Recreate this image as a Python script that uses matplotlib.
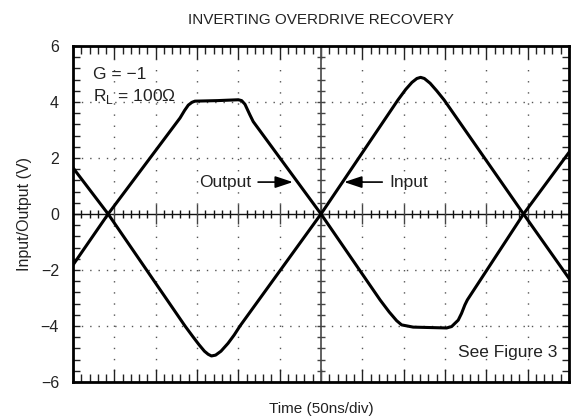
import numpy as np
import matplotlib
matplotlib.use("Agg")
import matplotlib.pyplot as plt
from matplotlib.ticker import MultipleLocator, NullFormatter

plt.rcParams['font.family'] = ['Liberation Sans', 'DejaVu Sans']

# time axis in divisions (50ns/div), 12 divisions across
t_in = [0, 0.85, 2.71, 2.9, 3.05, 3.18, 3.27, 3.35, 3.45, 3.58, 3.75, 3.9, 4.04, 6.0,
        7.86, 8.05, 8.2, 8.32, 8.41, 8.5, 8.64, 8.8, 8.98, 10.9, 12]
v_in = [1.65, 0, -4.0, -4.38, -4.67, -4.9, -5.01, -5.07, -5.04, -4.9, -4.62, -4.32, -4.0, 0,
        4.07, 4.45, 4.7, 4.84, 4.88, 4.84, 4.67, 4.4, 4.07, 0, -2.3]

t_out = [0, 0.85, 2.59, 2.7, 2.79, 2.88, 2.95, 3.5, 4.0, 4.08, 4.16, 4.22, 4.28, 4.36, 6.0,
         7.43, 7.65, 7.83, 7.95, 8.23, 9.04, 9.16, 9.32, 9.4, 9.48, 9.54, 10.9, 12]
v_out = [-1.82, 0, 3.43, 3.7, 3.89, 3.99, 4.03, 4.05, 4.08, 4.05, 3.92, 3.73, 3.54, 3.3, 0,
         -3.07, -3.5, -3.81, -3.96, -4.04, -4.07, -4.02, -3.79, -3.55, -3.25, -3.07, 0, 2.2]

y_ticks = [-6, -4, -2, 0, 2, 4, 6]
txt = '#222222'

fig = plt.figure(figsize=(5.72, 4.2), dpi=100)
ax = fig.add_axes([73 / 572, 1 - 382 / 420, 496 / 572, 336 / 420])

ax.set_xlim(0, 12)
ax.set_ylim(-6, 6)

# dotted graticule
for gx in range(1, 12):
    if gx != 6:
        ax.axvline(gx, color='#555555', lw=1.0, ls=(0, (1, 7)), zorder=1)
for gy in y_ticks[1:-1]:
    if gy != 0:
        ax.axhline(gy, color='#555555', lw=1.0, ls=(0, (1, 5)), zorder=1)

# centre cross-hair with its own small ticks
ax.axhline(0, color='#111111', lw=1.0, zorder=2)
ax.axvline(6, color='#555555', lw=1.3, zorder=2)
xm = np.arange(0.2, 12, 0.2)
xm = xm[np.abs(xm - np.round(xm)) > 0.01]
ax.plot(xm, np.zeros_like(xm), ls='none', marker='|', ms=6, mew=1.0,
        color='#111111', zorder=2)
xM = np.arange(1, 12)
ax.plot(xM, np.zeros_like(xM), ls='none', marker='|', ms=14, mew=1.0,
        color='#444444', zorder=2)
ym = np.arange(-5.6, 6, 0.4)
ax.plot(np.full_like(ym, 6), ym, ls='none', marker='_', ms=6, mew=1.0,
        color='#444444', zorder=2)

# waveforms
ax.plot(t_in, v_in, color='black', lw=2.2, solid_joinstyle='round', zorder=3)
ax.plot(t_out, v_out, color='black', lw=2.2, solid_joinstyle='round', zorder=3)

# ticks
ax.xaxis.set_major_locator(MultipleLocator(1))
ax.xaxis.set_minor_locator(MultipleLocator(0.2))
ax.xaxis.set_major_formatter(NullFormatter())
ax.set_yticks(y_ticks)
ax.set_yticklabels([str(v).replace('-', '\u2212') for v in y_ticks],
                   fontsize=11.5, color=txt)
ax.yaxis.set_minor_locator(MultipleLocator(0.4))
ax.tick_params(axis='x', which='major', direction='in', top=True, bottom=True,
               length=9.5, width=1.0, color='#222222')
ax.tick_params(axis='x', which='minor', direction='in', top=True, bottom=True,
               length=5.5, width=1.0, color='#222222')
ax.tick_params(axis='y', which='both', direction='in', left=True, right=True,
               length=5, width=1.0, color='#222222', pad=10)

for s in ax.spines.values():
    s.set_linewidth(2.0)
    s.set_color('black')

ax.set_title('INVERTING OVERDRIVE RECOVERY', fontsize=11, color=txt, pad=16)
ax.set_xlabel('Time (50ns/div)', fontsize=11, color=txt, labelpad=11)
ax.set_ylabel('Input/Output (V)', fontsize=11.5, color=txt, labelpad=6)

# annotations
ax.text(0.48, 4.98, 'G = \u22121', fontsize=12.5, color=txt, va='center')
ax.text(0.48, 4.18, 'R$_\\mathregular{L}$ = 100\u03a9',
        fontsize=12.5, color=txt, va='center')
ax.text(11.73, -4.96, 'See Figure 3', fontsize=12.5, color=txt, ha='right', va='center')

arrow = dict(arrowstyle='-|>,head_length=0.9,head_width=0.3', color='black',
             lw=1.2, shrinkA=3, shrinkB=0, mutation_scale=12)
ax.annotate('Output', xy=(5.32, 1.14), xytext=(4.31, 1.14), fontsize=12.5,
            color=txt, ha='right', va='center', arrowprops=arrow)
ax.annotate('Input', xy=(6.56, 1.14), xytext=(7.65, 1.14), fontsize=12.5,
            color=txt, ha='left', va='center', arrowprops=arrow)

fig.savefig('out.png', dpi=100)
